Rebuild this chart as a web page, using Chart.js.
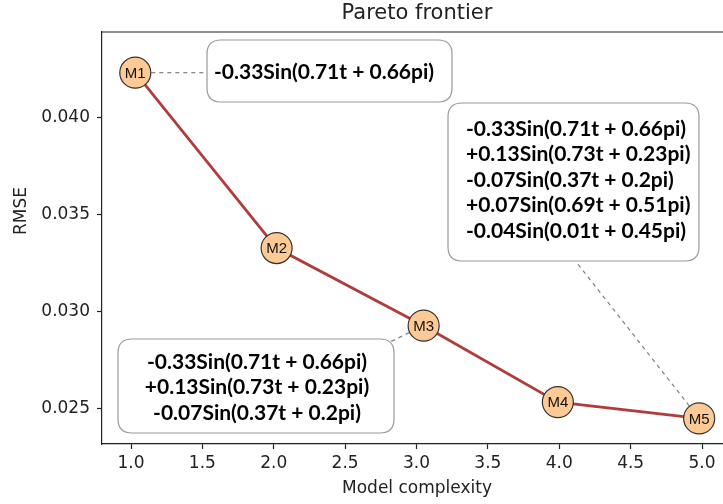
<!DOCTYPE html>
<html>
<head>
<meta charset="utf-8">
<script src="https://cdn.jsdelivr.net/npm/chart.js@4.4.1/dist/chart.umd.min.js"></script>
<style>
  html, body { margin: 0; padding: 0; background: #fff; overflow: hidden; }
  #wrap { position: relative; width: 750px; height: 504px; }
</style>
</head>
<body>
<div id="wrap"><canvas id="c"></canvas></div>
<script>
// ---- data ----
const modelLabels = ['M1', 'M2', 'M3', 'M4', 'M5'];
const complexity = [1.03, 2.02, 3.05, 3.99, 4.98];
const rmse = [0.0423, 0.03326, 0.02926, 0.02532, 0.02448];
const xTickValues = [1.0, 1.5, 2.0, 2.5, 3.0, 3.5, 4.0, 4.5, 5.0];
const yTickValues = [0.025, 0.030, 0.035, 0.040];
const formulaM1 = ['-0.33Sin(0.71t + 0.66pi)'];
const formulaM3 = ['-0.33Sin(0.71t + 0.66pi)', '+0.13Sin(0.73t + 0.23pi)', '-0.07Sin(0.37t + 0.2pi)'];
const formulaM5 = ['-0.33Sin(0.71t + 0.66pi)', '+0.13Sin(0.73t + 0.23pi)', '-0.07Sin(0.37t + 0.2pi)',
                   '+0.07Sin(0.69t + 0.51pi)', '-0.04Sin(0.01t + 0.45pi)'];

// annotation layout (pixels on the canvas)
const annotations = [
  { model: 0, lines: formulaM1, box: [207, 40, 245, 62], align: 'center', tx: 324, ty: 72, leaderTo: [207, null] },
  { model: 2, lines: formulaM3, box: [118, 339, 276, 94], align: 'center', tx: 257, ty: 362, leaderTo: [390, 342] },
  { model: 4, lines: formulaM5, box: [448, 103, 251, 158], align: 'left', tx: 466, ty: 129, leaderTo: [577, 263] }
];
const LINE_GAP = 25.5;
const BOX_FONT = 'bold 21px Lato, "Open Sans", sans-serif';

function roundRect(ctx, x, y, w, h, r) {
  ctx.beginPath();
  ctx.moveTo(x + r, y);
  ctx.lineTo(x + w - r, y);
  ctx.quadraticCurveTo(x + w, y, x + w, y + r);
  ctx.lineTo(x + w, y + h - r);
  ctx.quadraticCurveTo(x + w, y + h, x + w - r, y + h);
  ctx.lineTo(x + r, y + h);
  ctx.quadraticCurveTo(x, y + h, x, y + h - r);
  ctx.lineTo(x, y + r);
  ctx.quadraticCurveTo(x, y, x + r, y);
  ctx.closePath();
}

const framePlugin = {
  id: 'frame',
  afterDraw(chart) {
    const { ctx, chartArea: a } = chart;
    ctx.save();
    ctx.strokeStyle = '#222';
    ctx.lineWidth = 1.2;
    ctx.beginPath();
    ctx.moveTo(a.left, a.top); ctx.lineTo(a.right, a.top); ctx.lineTo(a.right, a.bottom);
    ctx.stroke();
    ctx.restore();
  }
};

const leaderPlugin = {
  id: 'leaders',
  beforeDatasetsDraw(chart) {
    const { ctx } = chart;
    const pts = chart.getDatasetMeta(0).data;
    ctx.save();
    ctx.strokeStyle = '#808080';
    ctx.lineWidth = 1.2;
    ctx.setLineDash([4, 4]);
    annotations.forEach(an => {
      const p = pts[an.model];
      const tx = an.leaderTo[0];
      const ty = an.leaderTo[1] === null ? p.y : an.leaderTo[1];
      ctx.beginPath();
      ctx.moveTo(p.x, p.y);
      ctx.lineTo(tx, ty);
      ctx.stroke();
    });
    ctx.restore();
  }
};

const labelPlugin = {
  id: 'labels',
  afterDatasetsDraw(chart) {
    const { ctx } = chart;
    const pts = chart.getDatasetMeta(0).data;
    ctx.save();
    // marker labels
    ctx.fillStyle = '#111';
    ctx.font = '15px "Liberation Sans", Arial, sans-serif';
    ctx.textAlign = 'center';
    ctx.textBaseline = 'middle';
    pts.forEach((p, i) => ctx.fillText(modelLabels[i], p.x, p.y + 1));
    // boxes
    annotations.forEach(an => {
      const [x, y, w, h] = an.box;
      roundRect(ctx, x, y, w, h, 14);
      ctx.fillStyle = '#fff';
      ctx.fill();
      ctx.strokeStyle = '#999';
      ctx.lineWidth = 1.2;
      ctx.stroke();
      ctx.fillStyle = '#000';
      ctx.font = BOX_FONT;
      ctx.textAlign = an.align;
      ctx.textBaseline = 'middle';
      an.lines.forEach((t, k) => ctx.fillText(t, an.tx, an.ty + k * LINE_GAP));
    });
    ctx.restore();
  }
};

const titlePlugin = {
  id: 'titles',
  afterDraw(chart) {
    const { ctx, chartArea: a } = chart;
    const cx = (a.left + a.right) / 2;
    ctx.save();
    ctx.fillStyle = '#222';
    ctx.textAlign = 'center';
    ctx.textBaseline = 'middle';
    ctx.font = '21px "DejaVu Sans", sans-serif';
    ctx.fillText('Pareto frontier', cx, 14);
    ctx.font = '17px "DejaVu Sans", sans-serif';
    ctx.fillText('Model complexity', cx, 489);
    ctx.translate(22, 211);
    ctx.rotate(-Math.PI / 2);
    ctx.fillText('RMSE', 0, 0);
    ctx.restore();
  }
};

new Chart(document.getElementById('c'), {
  type: 'scatter',
  data: {
    datasets: [{
      data: complexity.map((x, i) => ({ x, y: rmse[i] })),
      showLine: true,
      borderColor: '#b03c3c',
      borderWidth: 2.8,
      pointRadius: 15.5,
      pointHoverRadius: 15.5,
      pointBackgroundColor: '#fdca95',
      pointBorderColor: '#333',
      pointBorderWidth: 1.2,
      clip: false
    }]
  },
  options: {
    responsive: true,
    maintainAspectRatio: false,
    animation: false,
    events: [],
    layout: { padding: { left: 0, top: 32, right: 18, bottom: 0 } },
    plugins: { legend: { display: false }, tooltip: { enabled: false }, title: { display: false } },
    scales: {
      x: {
        type: 'linear',
        min: 0.7968,
        max: 5.21,
        afterFit(s) { s.height = 60; },
        afterBuildTicks(s) { s.ticks = xTickValues.map(v => ({ value: v })); },
        ticks: {
          callback: v => Number(v).toFixed(1),
          color: '#222',
          font: { family: '"DejaVu Sans", sans-serif', size: 17 },
          padding: 4,
          maxRotation: 0,
          autoSkip: false
        },
        grid: { drawOnChartArea: false, drawTicks: true, tickLength: 5, color: '#222', tickWidth: 1.2 },
        border: { display: true, color: '#222', width: 1.2 }
      },
      y: {
        type: 'linear',
        min: 0.02316,
        max: 0.044397,
        afterFit(s) { s.width = 102; },
        afterBuildTicks(s) { s.ticks = yTickValues.map(v => ({ value: v })); },
        ticks: {
          callback: v => Number(v).toFixed(3),
          color: '#222',
          font: { family: '"DejaVu Sans", sans-serif', size: 17 },
          padding: 7,
          autoSkip: false
        },
        grid: { drawOnChartArea: false, drawTicks: true, tickLength: 5, color: '#222', tickWidth: 1.2 },
        border: { display: true, color: '#222', width: 1.2 }
      }
    }
  },
  plugins: [framePlugin, leaderPlugin, labelPlugin, titlePlugin]
});
</script>
</body>
</html>
